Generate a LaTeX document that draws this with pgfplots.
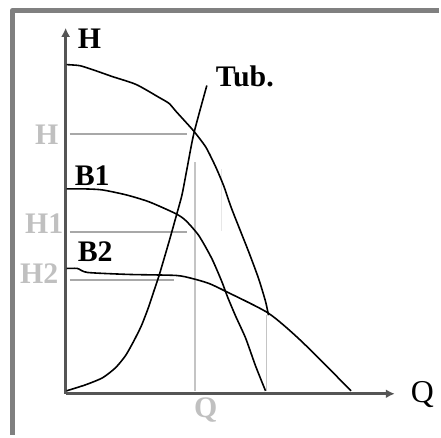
\documentclass[border=0pt]{standalone}
\usepackage{fontspec}
\setmainfont{Liberation Serif}
\usepackage{pgfplots}
\pgfplotsset{compat=1.18}
\usetikzlibrary{arrows.meta}

\definecolor{axisgray}{HTML}{555555}
\definecolor{guide}{HTML}{A8A8A8}
\definecolor{lightguide}{HTML}{C4C4C4}
\definecolor{labelgray}{HTML}{C0C0C0}
\definecolor{framegray}{HTML}{808080}

\begin{document}
\begin{tikzpicture}[line cap=round,line join=round,
    lbl/.style={inner sep=0pt, anchor=base west,
      font=\fontsize{30}{36}\selectfont\bfseries}]
  \begin{axis}[
      width=441pt, height=437pt, scale only axis,
      xmin=-66, xmax=375, ymin=-41, ymax=396,
      hide axis, clip=false
    ]
    % keep the full canvas in the bounding box
    \path (axis cs:-66,-41) rectangle (axis cs:375,396);

    % frame (only top and left edges are visible)
    \addplot[framegray, line width=5pt, line cap=butt] coordinates {
      (-53.5,-41) (-53.5,385.5) (375,385.5)
    };

    % guide lines
    \addplot[guide, line width=2pt, line cap=butt] coordinates {(4,261) (122,261)};
    \addplot[guide, line width=2pt, line cap=butt] coordinates {(4,163) (122,163)};
    \addplot[guide, line width=2pt, line cap=butt] coordinates {(4,114) (109,114)};
    \addplot[lightguide, line width=2pt, line cap=butt] coordinates {(130.5,233) (130.5,3)};
    \addplot[lightguide!40, line width=1pt, line cap=butt] coordinates {(157,226) (157,164)};
    \addplot[lightguide, line width=1.2pt, line cap=butt] coordinates {(202,79) (202,3)};

    % axes
    \addplot[axisgray, line width=3pt, line cap=butt,
      -{Latex[length=9pt,width=9pt]}] coordinates {(0,0) (0,368)};
    \addplot[axisgray, line width=3pt, line cap=butt,
      -{Latex[length=9pt,width=9pt]}] coordinates {(0,0) (331,0)};

    % combined head curve
    \addplot[black, line width=1.6pt, smooth, tension=0.4] coordinates {
      (1,331) (14,330) (27,326) (47,319) (71,311) (94,298) (104,292)
      (111,284) (121,273) (129,264) (141,248) (151,228) (159,209)
      (167,186) (184,143) (194,116) (201,93) (204,79)
    };
    % pump B1
    \addplot[black, line width=1.6pt, smooth, tension=0.4] coordinates {
      (1,206) (20,206) (37,205) (61,200) (84,193) (111,181) (121,174) (134,159)
      (147,136) (157,113) (163,97) (171,78) (181,56) (191,28) (201,3)
    };
    % pump B2
    \addplot[black, line width=1.6pt, smooth, tension=0.4] coordinates {
      (1,126) (12,126) (22,122) (64,120) (111,119) (127,116) (144,111)
      (161,103) (204,81) (237,53) (287,3)
    };
    % pipe curve
    \addplot[black, line width=1.6pt, smooth, tension=0.4] coordinates {
      (1,3) (20,9) (37,16) (50,26) (60,38) (68,52) (76,68) (83,86)
      (89,104) (94,119) (104,153) (111,178) (117,200) (122,226)
      (129,262) (142,310)
    };

    % labels
    \node[lbl] at (axis cs:12,347) {H};
    \node[lbl] at (axis cs:151,309) {Tub.};
    \node[lbl] at (axis cs:9,209) {B1};
    \node[lbl] at (axis cs:12,133) {B2};
    \node[lbl, text=labelgray] at (axis cs:-31,251) {H};
    \node[lbl, text=labelgray] at (axis cs:-41,161) {H1};
    \node[lbl, text=labelgray] at (axis cs:-46,111) {H2};
    \node[lbl, text=labelgray] at (axis cs:129,-24) {Q};
    \node[lbl, font=\fontsize{32}{38}\selectfont] at (axis cs:347,-9) {Q};
  \end{axis}
\end{tikzpicture}
\end{document}
